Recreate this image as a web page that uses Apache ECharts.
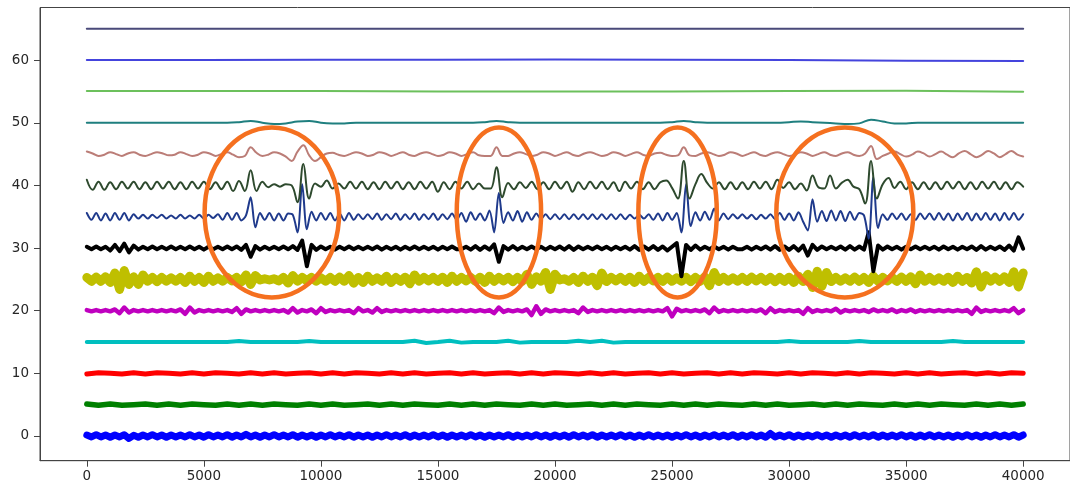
<!DOCTYPE html>
<html><head><meta charset="utf-8">
<script src="https://cdn.jsdelivr.net/npm/echarts@6/dist/echarts.min.js"></script>
<style>html,body{margin:0;padding:0;background:#fff}#c{width:1070px;height:487px}</style>
</head><body><div id="c"></div>
<script>
// ---------- tick labels ----------
const xTicks = [0,5000,10000,15000,20000,25000,30000,35000,40000];
const yTicks = [0,10,20,30,40,50,60];

// ---------- trace baselines (vertical offsets) ----------
const offsets = [0,5,10,15,20,25,30,35,40,45,50,55,60,65];

// ---------- trace values (deviation from baseline) ----------
// sampled every 200 x-units (201 values)
const t0 = [
.15,-.15,.2,-.15,.15,-.2,.15,-.15,.2,-.4,.1,-.2,.15,-.15,.2,-.15,.15,-.2,.15,-.15,
.15,-.15,.2,-.15,.15,-.2,.2,-.15,.15,-.15,.2,-.2,.15,-.15,.25,-.15,.15,-.2,.15,-.15,
.2,-.15,.15,-.15,.2,-.2,.15,-.15,.15,-.2,.15,-.15,.2,-.15,.15,-.15,.2,-.2,.15,-.15,
.15,-.2,.15,-.15,.2,-.15,.15,-.15,.2,-.2,.15,-.15,.15,-.15,.2,-.15,.15,-.2,.15,-.15,
.15,-.15,.2,-.15,.15,-.2,.15,-.15,.15,-.15,.2,-.2,.15,-.15,.15,-.15,.2,-.15,.15,-.2,
.15,-.15,.15,-.2,.2,-.15,.15,-.15,.2,-.2,.15,-.15,.15,-.15,.2,-.15,.15,-.2,.15,-.15,
.2,-.15,.15,-.15,.15,-.2,.15,-.15,.2,-.15,.15,-.2,.15,-.15,.2,-.15,.15,-.15,.2,-.2,
.15,-.15,.2,-.15,.15,-.2,.4,-.15,.15,-.15,.2,-.2,.15,-.15,.15,-.15,.2,-.15,.15,-.2,
.15,-.15,.15,-.2,.2,-.15,.15,-.15,.2,-.2,.15,-.15,.15,-.15,.2,-.15,.15,-.2,.15,-.15,
.2,-.15,.15,-.15,.15,-.2,.15,-.15,.2,-.15,.15,-.2,.15,-.15,.2,-.15,.15,-.15,.2,-.2,
.15];
const t20 = [
.1,-.1,.1,-.1,.1,-.1,.2,-.4,.5,-.3,.1,-.1,.1,-.1,.1,-.1,.1,-.1,.1,-.1,
.2,-.5,.5,-.3,.1,-.1,.1,-.1,.1,-.1,.1,-.2,.4,-.5,.2,-.1,.1,-.1,.1,-.1,
.1,-.1,.1,-.3,.4,-.3,.1,-.1,.2,-.4,.4,-.2,.1,-.1,.1,-.1,.1,-.4,.4,-.1,
.1,-.3,.4,-.2,.1,-.1,.1,-.1,.1,-.1,.1,-.1,.1,-.1,.1,-.1,.1,-.1,.1,-.1,
.1,-.1,.1,-.1,.1,-.1,.1,-.4,.5,-.2,.1,-.1,.1,-.1,.2,-.7,.7,-.5,.2,-.1,
.1,-.1,.1,-.1,.1,-.4,.5,-.2,.1,-.1,.1,-.1,.1,-.1,.1,-.1,.1,-.1,.1,-.1,
.1,-.1,.1,-.1,.4,-.9,.3,-.1,.1,-.1,.1,-.1,.2,-.4,.5,-.2,.1,-.1,.1,-.1,
.1,-.1,.1,-.1,.2,-.4,.4,-.2,.1,-.1,.1,-.1,.1,-.5,.4,-.2,.1,-.1,.1,-.1,
.3,-.3,.1,-.1,.1,-.1,.1,-.2,.2,-.1,.1,-.1,.2,-.2,.1,-.1,.2,-.2,.1,-.1,
.1,-.1,.1,-.1,.1,-.1,.1,-.1,.1,-.5,.5,-.2,.1,-.1,.1,-.1,.1,-.1,.4,-.4,
.1];
const t25 = [
.3,-.3,.35,-.3,.4,-.5,1.0,-1.6,1.4,-.8,.4,-.8,.7,-.3,.3,-.35,.3,-.3,.25,-.3,
.3,-.5,.5,-.3,.3,-.5,.5,-.3,.25,-.3,.3,-.25,.3,-.4,.7,-.8,.6,-.1,.1,-.1,
.1,-.25,.3,-.6,.6,-.3,.3,-.25,.3,-.3,.25,-.3,.3,-.3,.35,-.3,.6,-.6,.3,-.5,
.5,-.3,.25,-.3,.5,-.5,.3,-.3,.35,-.7,.7,-.3,.3,-.25,.3,-.3,.35,-.5,.5,-.3,
.3,-.25,.3,-.3,.35,-.5,.5,-.3,.3,-.25,.3,-.35,.3,-.3,.8,-.8,.4,-.3,1.1,-1.6,
.8,-.1,.1,-.3,.3,-.5,.5,-.3,.35,-1.0,1.0,-.35,.3,-.25,.3,-.3,.35,-.5,.5,-.3,
.3,-.25,.3,-.3,.35,-.3,.25,-.3,.3,-.35,.3,-.3,.4,-1.0,1.1,-.35,.3,-.3,.25,-.3,
.3,-.3,.35,-.25,.3,-.3,.3,-.35,.3,-.3,.35,-.5,.5,-.35,.8,-1.3,1.3,-1.1,1.1,-.35,
.3,-.3,.25,-.3,.35,-.3,.3,-.5,.5,-.3,.3,-.25,.3,-.3,.35,-.3,.4,-.7,.7,-.3,
.3,-.3,.25,-.3,.35,-.5,.5,-.3,.3,-.6,1.2,-1.2,.6,-.3,.35,-.3,.4,-.5,1.2,-1.2,
1.0];
const t30 = [
.2,-.2,.25,-.2,.2,-.4,.5,-.5,.7,-.7,.4,-.25,.2,-.2,.25,-.2,.2,-.2,.25,-.2,
.2,-.2,.25,-.2,.2,-.25,.2,-.2,.2,-.2,.25,-.2,.25,-.3,.5,-1.4,.3,-.25,.2,-.2,
.2,-.2,.25,-.2,.3,-.3,1.2,-2.9,.5,-.3,.25,-.2,.2,-.25,.2,-.2,.25,-.2,.2,-.2,
.2,-.2,.25,-.25,.2,-.2,.2,-.25,.2,-.2,.25,-.2,.2,-.2,.2,-.25,.2,-.2,.25,-.2,
-.2,.2,-.25,.3,-.3,.25,-.25,.6,-2.2,.3,-.25,.3,-.25,.2,-.2,.25,-.2,.2,-.25,.2,
-.2,.25,-.25,.3,-.3,.25,-.2,.2,-.2,.25,-.2,.2,-.25,.2,-.2,.2,-.25,.3,-.3,.25,
-.25,.3,-.3,.25,-.4,.2,.8,-4.5,.5,-.3,.4,-.25,.2,-.2,.25,-.2,.2,-.25,.2,-.2,
-.2,.2,-.25,.2,-.2,.25,-.25,.3,-.3,.25,-.3,.3,-.4,.4,-1.2,.5,-.3,.25,-.2,.2,
-.2,.25,-.25,.3,-.25,.25,-.25,2.5,-3.7,.4,-.25,.25,-.2,.2,-.25,.2,-.2,.25,-.2,.2,
-.2,.2,-.25,.25,-.2,.2,-.25,.2,-.2,.25,-.3,.3,-.25,.2,-.2,.25,-.3,.4,-.4,1.7,
-.1];
const t35 = [
.6,-.5,.6,-.6,.5,-.6,.6,-.5,.6,-.6,.4,-.3,.3,-.3,.3,-.2,.3,-.3,.2,-.3,
.3,-.3,.2,-.3,.3,-.3,.3,-.2,.4,-.5,.6,-.5,.6,-.6,.2,3.1,-1.7,.6,-.5,.6,
-.6,.5,-.6,.5,.3,-2.5,5.2,-2.0,.8,-.6,.6,-.5,.6,-.6,.5,-.6,.6,-.5,.4,-.4,
.4,-.4,.5,-.5,.4,-.4,.5,-.5,.4,-.4,.5,-.5,.4,-.4,.5,-.5,.4,-.4,.5,-.5,
.6,-.8,.7,-.5,.5,-.6,1.0,-2.5,3.8,-1.0,.7,-.6,.9,-.8,.7,-.5,.5,-.4,.4,-.4,
.4,-.4,.4,-.4,.4,-.4,.4,-.4,.4,-.4,.4,-.4,.4,-.4,.4,-.4,.3,-.3,.3,-.3,
.4,-.5,.5,-.6,.6,-.5,.6,-2.5,5.2,-1.5,.7,-.6,.8,-.5,1.3,-.6,.5,-.4,.4,-.3,
.4,-.3,.3,-.4,.3,-.3,.4,-.4,.6,-.5,.5,-.6,.7,-.8,-2.2,2.8,-.8,.9,-.7,1.0,
-.6,.9,-.7,.8,-.5,.6,.2,-3.5,6.3,-1.8,.4,-.5,.5,-.4,.5,-.5,.4,-.5,.5,-.4,
.5,-.5,.6,-.5,.5,-.6,.5,-.5,.6,-.6,.5,-.5,.6,-.5,.5,-.6,.6,-.5,.6,-.5,
.4];
// sampled every 250 x-units (161 values)
const t40 = [
.9,-.7,.6,-.7,.5,-.6,.6,-.5,.6,-.6,.5,-.6,.6,-.5,.6,-.6,
.5,-.6,.6,-.5,.6,-.6,.5,-.6,.6,-.9,.7,-.9,2.4,-.9,.6,-.3,
.2,-.2,.2,0,-2.7,3.4,-2.1,.3,-.2,.8,-.5,.3,-.5,.6,-.5,.6,
-.6,.5,-.6,.6,-.5,.6,-.6,.5,-.6,.6,-.5,.6,-1.0,.5,-.6,.6,
-.5,.6,-.6,.3,-.5,-.5,2.9,-1.9,.4,-.6,.5,-.4,.6,-.6,.5,-.6,
.6,-.5,.6,-1.0,.5,-.6,.6,-.5,.6,-.6,.5,-.9,.6,-.5,.6,-.6,
.5,-.6,.5,.8,-.4,-2.1,3.9,-2.1,.2,1.8,.4,-.5,.5,-.6,.5,-.6,
.5,-.6,.6,-.5,.6,-.6,.9,-.4,.5,-.6,.3,-.8,1.6,-.3,-.5,1.6,
-.5,.4,.9,-.2,-.6,-2.9,3.9,-2.1,.2,1.2,-.4,.6,-.6,.5,-.6,.5,
-.6,.5,-.6,.6,-.5,.6,-.6,.5,-.6,.6,-.5,.6,-.6,.5,-.6,.5,
-.2];
const t45 = [
.4,.1,-.3,-.1,.3,0,-.3,.1,.3,-.1,-.3,0,.3,.1,-.2,-.1,
.3,0,-.3,-.1,.3,.1,-.3,0,.3,-.1,-.5,-.3,1.1,.2,-.3,-.1,
.3,.1,-.4,-1.1,.4,1.4,-.2,-1.1,-.5,.1,.2,-.1,-.3,0,.3,.1,
-.3,-.1,.3,.1,-.3,0,.3,-.1,-.3,.1,.3,0,-.3,-.1,.3,.1,
-.3,0,.3,-.2,-.3,-.3,1.1,-.3,-.3,.1,.3,0,-.3,-.1,.3,.1,
-.3,0,.3,-.1,-.3,.1,.3,0,-.3,-.1,.3,.1,-.3,0,.3,-.1,
-.3,.1,.2,-.1,-.3,-.2,1.1,-.2,-.3,.1,.3,0,-.3,-.1,.3,.1,
-.3,0,.3,-.1,-.3,.1,.3,0,-.3,-.1,.3,.1,-.3,0,.3,-.1,
-.3,.1,.3,-.1,-.3,.1,1.3,-.8,-.3,.1,.4,0,-.4,-.1,.4,.1,
-.4,0,.4,-.1,-.5,.1,.5,0,-.5,-.1,.5,.1,-.5,0,.5,-.1,
-.4];
// sampled every 500 x-units (81 values)
const t5 = [
.1,-.1,.1,-.1,0,.1,-.1,.1,-.1,.1,0,-.1,.1,-.1,.1,-.1,
.1,0,-.1,.1,-.1,.1,-.1,0,.1,-.1,.1,-.1,.1,0,-.1,.1,
-.1,.1,-.1,.1,0,-.1,.1,-.1,.1,-.1,0,.1,-.1,.1,-.1,.1,
0,-.1,.1,-.1,.1,-.1,.1,0,-.1,.1,-.1,.1,-.1,0,.1,-.1,
.1,-.1,.1,0,-.1,.1,-.1,.1,-.1,.1,0,-.1,.1,-.1,.1,-.1,
.1];
const t10 = [
-.1,.1,0,-.1,.1,-.1,.1,0,-.1,.1,-.1,.1,0,-.1,.1,-.1,
.1,-.1,0,.1,-.1,.1,-.1,.1,0,-.1,.1,-.1,.1,-.1,0,.1,
-.1,.1,-.1,0,.1,-.1,.1,-.1,.1,0,-.1,.1,-.1,.1,-.1,0,
.1,-.1,.1,-.1,0,.1,-.1,.1,-.1,.1,0,-.1,.1,-.1,.1,0,
-.1,.1,-.1,.1,0,-.1,.1,-.1,.1,-.1,0,.1,-.1,.1,-.1,.1,
0];
const t15 = [
0,0,0,0,0,0,0,0,0,0,0,0,0,.15,0,0,
0,0,0,.15,0,0,0,0,0,0,0,0,.2,-.15,0,.2,
-.1,0,0,0,.2,-.1,0,0,0,0,.2,0,.2,-.1,0,0,
0,0,0,0,0,0,0,0,0,0,0,0,.15,0,0,0,
0,0,.15,0,0,0,0,0,0,0,.15,0,0,0,0,0,
0];
const t50 = [
0,0,0,0,0,0,0,0,0,0,0,0,0,.1,.3,0,
-.2,-.1,.2,.3,0,-.1,-.1,0,0,0,0,0,0,0,0,0,
0,0,.1,.3,.1,0,0,0,0,0,0,0,0,0,0,0,
0,0,.1,.3,.1,0,0,0,0,0,0,0,.1,.2,.1,0,
-.1,-.2,-.1,.5,.2,-.1,-.1,0,0,0,0,0,0,0,0,0,
0];
// sampled every 5000 x-units (9 values)
const t55 = [.05,.05,.05,0,0,0,.05,.1,-.05];
const t60 = [0,0,.05,.05,.1,.05,0,-.1,-.15];
const t65 = [0,0,0,0,0,0,0,0,0];

// ---------- annotation ellipses (data units) ----------
const ellipseCenterX = [7905,17604,25236,32381];
const ellipseCenterY = [35.69,35.69,35.69,35.69];
const ellipseHalfW = [2873,1802,1675,2926];
const ellipseHalfH = [13.57,13.57,13.57,13.57];

// ---------- series specs ----------
const specs = [
  {v:t0,  step:200, color:'#0000ff', w:7},
  {v:t5,  step:500, color:'#008000', w:5.5},
  {v:t10, step:500, color:'#ff0000', w:5},
  {v:t15, step:500, color:'#00bfbf', w:4},
  {v:t20, step:200, color:'#bf00bf', w:4.5},
  {v:t25, step:200, color:'#bfbf00', w:9},
  {v:t30, step:200, color:'#000000', w:4},
  {v:t35, step:200, color:'#1f3a8c', w:2, smooth:0.3},
  {v:t40, step:250, color:'#2e4a2e', w:2, smooth:0.4},
  {v:t45, step:250, color:'#bb7d77', w:2, smooth:0.4},
  {v:t50, step:500, color:'#1f7f7f', w:2, smooth:0.4},
  {v:t55, step:5000, color:'#6cc05c', w:2},
  {v:t60, step:5000, color:'#4444dd', w:2},
  {v:t65, step:5000, color:'#4a4a7a', w:2}
];

const chart = echarts.init(document.getElementById('c'), null, {renderer:'canvas'});
const series = specs.map((s, k) => ({
  type:'line',
  data: s.v.map((d, i) => [i * s.step, offsets[k] + d]),
  symbol:'none', showSymbol:false, silent:true,
  smooth: s.smooth || false,
  lineStyle:{color:s.color, width:s.w, cap:'round', join:'round'},
  emphasis:{disabled:true},
  z: 2 + k
}));

const labelStyle = {color:'#262626', fontSize:13.5, fontFamily:'DejaVu Sans', formatter: v => String(v)};
chart.setOption({
  animation:false,
  backgroundColor:'#ffffff',
  grid:{left:40, right:-8, top:7.5, bottom:26.3, show:true, borderColor:'#444', borderWidth:1, backgroundColor:'transparent'},
  xAxis:{
    type:'value', min:-2000, max:42000,
    axisLine:{show:true, onZero:false, lineStyle:{color:'#444', width:1}},
    axisTick:{show:true, length:6, lineStyle:{color:'#444'}, customValues:xTicks},
    axisLabel:Object.assign({margin:9, customValues:xTicks}, labelStyle),
    splitLine:{show:false}
  },
  yAxis:{
    type:'value', min:-3.95, max:68.4,
    axisLine:{show:true, onZero:false, lineStyle:{color:'#444', width:1}},
    axisTick:{show:true, length:6, lineStyle:{color:'#444'}, customValues:yTicks},
    axisLabel:Object.assign({margin:11, customValues:yTicks}, labelStyle),
    splitLine:{show:false}
  },
  series: series
});

const gfx = ellipseCenterX.map((cx, i) => {
  const c = chart.convertToPixel({gridIndex:0}, [cx, ellipseCenterY[i]]);
  const e = chart.convertToPixel({gridIndex:0}, [cx + ellipseHalfW[i], ellipseCenterY[i] + ellipseHalfH[i]]);
  return {
    type:'ellipse', z:100, silent:true,
    shape:{cx:c[0], cy:c[1], rx:Math.abs(e[0]-c[0]), ry:Math.abs(c[1]-e[1])},
    style:{fill:'none', stroke:'#f5701f', lineWidth:4.5}
  };
});
chart.setOption({graphic:gfx});
</script>
</body></html>
